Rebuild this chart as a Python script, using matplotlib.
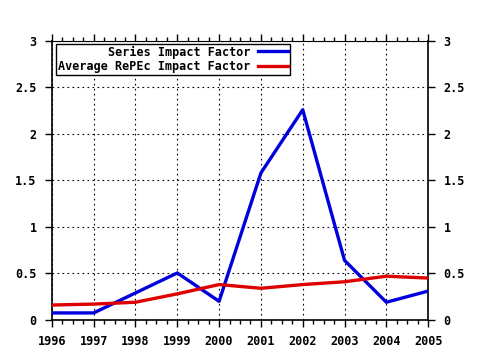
import matplotlib
matplotlib.use("Agg")
import matplotlib.pyplot as plt
from matplotlib.ticker import MultipleLocator

# data
years = [1996, 1997, 1998, 1999, 2000, 2001, 2002, 2003, 2004, 2005]
series_if = [0.075, 0.075, 0.29, 0.505, 0.20, 1.58, 2.26, 0.64, 0.19, 0.31]
repec_if = [0.16, 0.17, 0.19, 0.28, 0.38, 0.34, 0.38, 0.41, 0.47, 0.45]
yticks = [0, 0.5, 1, 1.5, 2, 2.5, 3]
ylabels = ["0", "0.5", "1", "1.5", "2", "2.5", "3"]

plt.rcParams['font.family'] = 'DejaVu Sans Mono'
plt.rcParams['font.weight'] = 'bold'
plt.rcParams['font.size'] = 8

fig = plt.figure(figsize=(4.8, 3.5), dpi=100)
ax = fig.add_axes([0.108, 0.086, 0.784, 0.797])

ax.plot(years, series_if, color='#0000dd', lw=2.4, label='Series Impact Factor', zorder=3)
ax.plot(years, repec_if, color='#dd0000', lw=2.4, label='Average RePEc Impact Factor', zorder=3)

ax.set_xlim(1996, 2005)
ax.set_ylim(0, 3)
ax.set_xticks(years)
ax.xaxis.set_minor_locator(MultipleLocator(0.25))
ax.set_yticks(yticks)
ax.set_yticklabels(ylabels)
ax.grid(True, which='major', color='black', ls=(0, (1.5, 3)), lw=0.8)

for s in ['left', 'right', 'bottom']:
    ax.spines[s].set_color('black')
    ax.spines[s].set_linewidth(1.2)
ax.spines['top'].set_linewidth(0.8)

ax.tick_params(axis='x', which='major', length=5, width=1, pad=6, labelsize=8.5)
ax.tick_params(axis='x', which='minor', length=3, width=1)
ax.tick_params(axis='y', which='major', length=5, width=1, pad=6, labelsize=8.5)
ax.tick_params(axis='x', which='both', top=True)

ax2 = ax.twinx()
ax2.set_ylim(0, 3)
ax2.set_yticks(yticks)
ax2.set_yticklabels(ylabels)
ax2.tick_params(axis='y', length=5, width=1, pad=6, labelsize=8.5)
for s in ax2.spines.values():
    s.set_visible(False)

leg = ax.legend(loc='upper left', bbox_to_anchor=(0.012, 0.99), markerfirst=False,
                fancybox=False, framealpha=1, edgecolor='black', handlelength=2.6,
                borderpad=0.15, labelspacing=0.1, handletextpad=0.6, borderaxespad=0,
                fontsize=8.5)
leg.get_frame().set_linewidth(1.0)
for t in leg.get_texts():
    t.set_ha('right')
leg._legend_box.align = "right"

fig.savefig('out.png', dpi=100)
